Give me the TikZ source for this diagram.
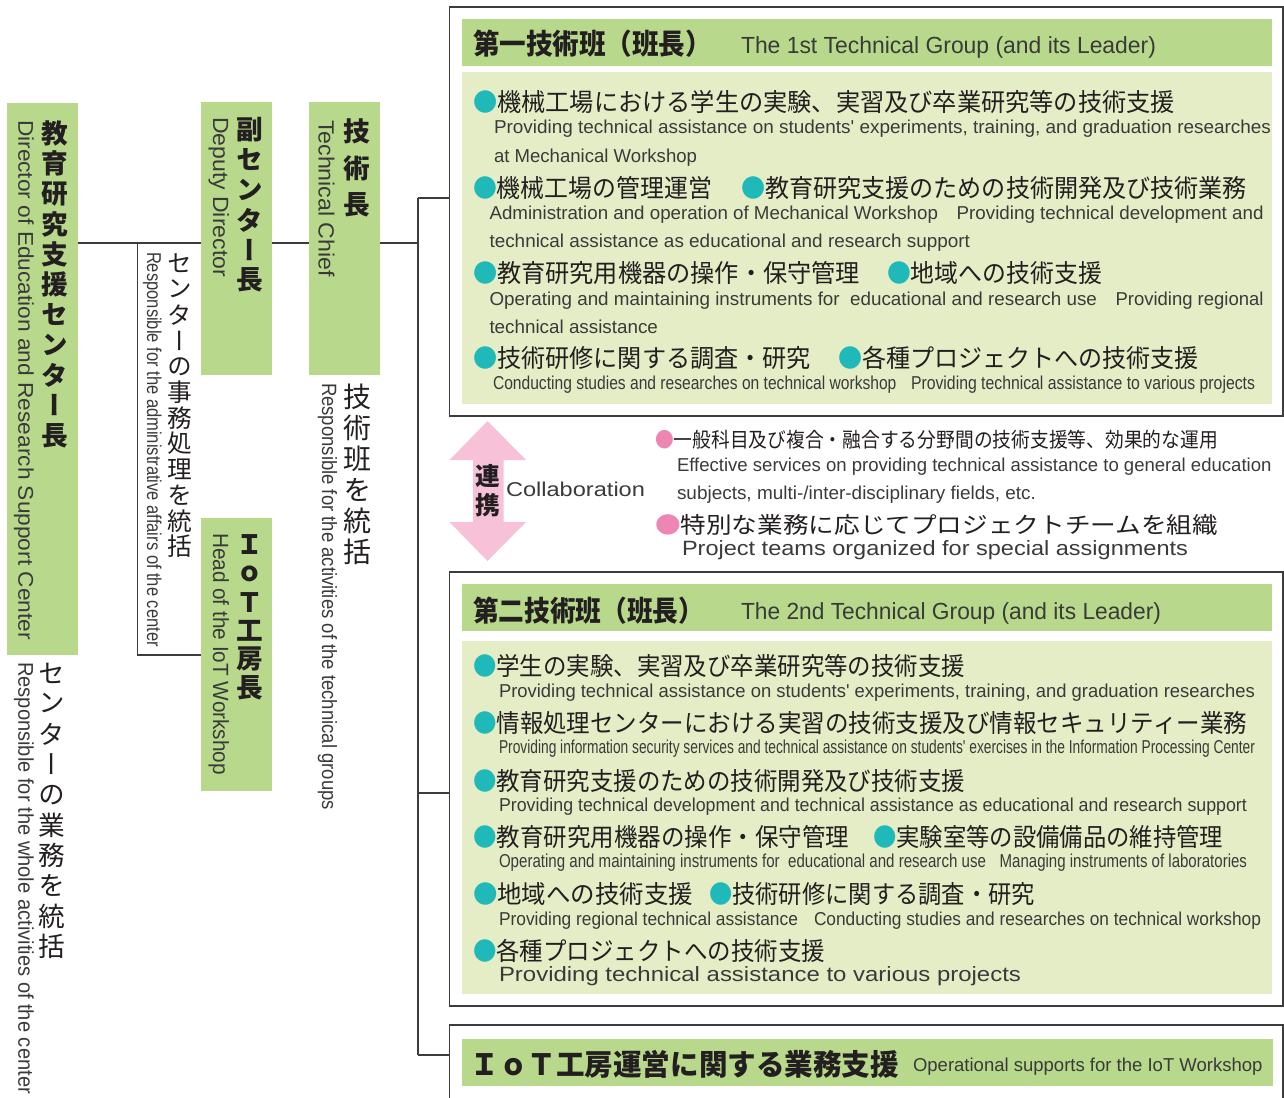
\documentclass[tikz,border=0pt]{standalone}
\usepackage{fontspec}
\usepackage{graphicx}
\setmainfont{Liberation Sans}
\newfontfamily\jpf{Noto Sans CJK JP}
\newfontfamily\jpvf[RawFeature=+vert]{Noto Sans CJK JP}
\newfontfamily\enf{Liberation Sans}
\usetikzlibrary{fit,shadows}
\definecolor{hdr}{HTML}{B8D98B}
\definecolor{bodyc}{HTML}{E4EDC5}
\definecolor{tealc}{HTML}{1FB9B9}
\definecolor{pinkc}{HTML}{EE86B4}
\definecolor{arrowc}{HTML}{F7C1D8}
\definecolor{jtx}{HTML}{231F20}
\definecolor{etx}{HTML}{3A3A3A}
\definecolor{bdr}{HTML}{3C3C3C}

\newlength\fitlen
\newcommand\fitw[2]{\settowidth\fitlen{#2}\pgfmathsetmacro\fitr{0.75*#1/\fitlen}\scalebox{\fitr}[1]{#2}}
\newcommand\tatecell{20pt}
\newcommand\tate[2]{\vbox{\offinterlineskip\def\tatecell{#1}\tateA#2\relax}}
\def\tateA#1{\ifx\relax#1\else\hbox to 1.2em{\hss\vbox to \tatecell{\vss\hbox{#1}\vss}\hss}\expandafter\tateA\fi}

\newcommand\jb{\jpf\fontsize{18.75}{20}\selectfont\color{jtx}}
\newcommand\eb{\enf\fontsize{14}{15}\selectfont\color{etx}}
\newcommand\tb{{\color{tealc}●}}
\newcommand\pb{{\color{pinkc}●}}
\newcommand\txtl[5]{\node[anchor=base west,inner sep=0,outer sep=0] (#1) at (#2,#3) {\fitw{#4}{#5}};}
\newcommand\rotl[6]{\node[anchor=base west,inner sep=0,outer sep=0,rotate=-90] (#1) at (#2,#3) {\fitw{#4}{\enf\fontsize{#5}{#5}\selectfont\color{etx}#6}};}

\begin{document}
\begin{tikzpicture}[x=0.75pt,y=-0.75pt,
  gfill/.style={fill=hdr,draw=none,inner sep=0,outer sep=0},
  bfill/.style={fill=bodyc,draw=none,inner sep=0,outer sep=0},
  outbox/.style={draw=bdr,line width=1.2pt,fill=white,inner sep=0,outer sep=0,
     drop shadow={shadow xshift=0.9pt,shadow yshift=-0.9pt,fill=black!40,opacity=0.8}},
  conn/.style={draw=bdr,line width=0.9pt},
  vt/.style={anchor=north,inner sep=0,outer sep=0,text=jtx}]
\useasboundingbox (0,0) rectangle (1284,1097);

% ---------- left column boxes ----------
\node[fit={(7.3,103)(77.7,655)},gfill] (dir) {};
\node[fit={(201,102.3)(271.7,375)},gfill] (dep) {};
\node[fit={(309,102.3)(380,375)},gfill] (chief) {};
\node[fit={(201,518)(272,790.7)},gfill] (iot) {};

% ---------- group boxes ----------
\node[fit={(449.5,7)(1283,416)},outbox] (g1) {};
\node[fit={(449.5,572)(1283,1006)},outbox] (g2) {};
\node[fit={(449.5,1025)(1283,1115)},outbox] (g3) {};
\node[fit={(461.5,19)(1272,66)},gfill] (h1) {};
\node[fit={(461.5,72)(1272,404)},bfill] (b1) {};
\node[fit={(461.5,584)(1272,631)},gfill] (h2) {};
\node[fit={(461.5,641)(1272,993.5)},bfill] (b2) {};
\node[fit={(462,1039)(1272.5,1086)},gfill] (h3) {};

% ---------- connectors ----------
\coordinate (yl) at (0,243);
\coordinate (jA) at (137.7,243);
\coordinate (jB) at (137.7,655);
\coordinate (tTop) at (418,198);
\coordinate (tMid) at (418,793);
\coordinate (tBot) at (418,1055);
\draw[conn] (dir.east |- yl) -- (dep.west |- yl);
\draw[conn] (jA) -- (jB) -- (iot.west |- jB);
\draw[conn] (dep.east |- yl) -- (chief.west |- yl);
\draw[conn] (chief.east |- yl) -- (tTop |- yl);
\draw[conn] (tTop) -- (tBot);
\draw[conn] (tTop) -- (g1.west |- tTop);
\draw[conn] (tMid) -- (g2.west |- tMid);
\draw[conn] (tBot) -- (g3.west |- tBot);

% ---------- vertical Japanese ----------
\node[vt] (v1) at (54.5,118.5) {\jpvf\bfseries\fontsize{20}{20}\selectfont\tate{22.65pt}{教育研究支援センター長}};
\node[vt] (v2) at (51.5,657.8) {\jpvf\fontsize{20}{20}\selectfont\tate{22.8pt}{センターの業務を統括}};
\node[vt] (v3) at (250,115) {\jpvf\bfseries\fontsize{20}{20}\selectfont\tate{22.5pt}{副センター長}};
\node[vt] (v4) at (356.5,112.5) {\jpvf\bfseries\fontsize{20}{20}\selectfont\tate{27.75pt}{技術長}};
\node[vt] (v5) at (180,250.6) {\jpvf\fontsize{18.5}{18.5}\selectfont\tate{19.3pt}{センターの事務処理を統括}};
\node[vt] (v6) at (357,381) {\jpvf\fontsize{21}{21}\selectfont\tate{23.25pt}{技術班を統括}};
\node[vt] (v7) at (250,530.7) {\jpvf\bfseries\fontsize{20}{20}\selectfont\tate{21.45pt}{ＩｏＴ工房長}};

% ---------- rotated English ----------
\rotl{r1}{18.3}{120}{520}{16}{Director of Education and Research Support Center}
\rotl{r2}{18.3}{662}{432}{16}{Responsible for the whole activities of the center}
\rotl{r3}{213}{117}{160}{16.5}{Deputy Director}
\rotl{r4}{318.5}{120}{157}{16.5}{Technical Chief}
\rotl{r5}{147}{252}{395}{15}{Responsible for the administrative affairs of the center}
\rotl{r6}{322}{383}{427}{15.5}{Responsible for the activities of the technical groups}
\rotl{r7}{213}{533}{242}{16.5}{Head of the IoT Workshop}

% ---------- collaboration arrow ----------
\path[fill=arrowc] (487.5,421) -- (526,460) -- (503.5,460) -- (503.5,522) -- (526,522)
  -- (487.5,561) -- (449.5,522) -- (473,522) -- (473,460) -- (449.5,460) -- cycle;
\node[vt] (v8) at (488,461) {\jpvf\bfseries\fontsize{18.5}{18.5}\selectfont\tate{22.1pt}{連携}};
\txtl{collab}{506}{496}{139}{\enf\fontsize{15}{16}\selectfont\color{etx}Collaboration}

% ---------- group 1 ----------
\txtl{h1j}{473}{54}{239}{\jpf\bfseries\fontsize{21.3}{22}\selectfont\color{jtx}第一技術班（班長）}
\txtl{h1e}{741}{53}{415}{\enf\fontsize{17.5}{18}\selectfont\color{etx}The 1st Technical Group (and its Leader)}
\txtl{a1}{473}{111}{702}{\jb\tb 機械工場における学生の実験、実習及び卒業研究等の技術支援}
\txtl{a1e}{494}{133}{777}{\eb Providing technical assistance on students' experiments, training, and graduation researches}
\txtl{a1f}{494}{162}{203}{\eb at Mechanical Workshop}
\txtl{a2}{473}{197}{239}{\jb\tb 機械工場の管理運営}
\txtl{a3}{741}{197}{506}{\jb\tb 教育研究支援のための技術開発及び技術業務}
\txtl{a2e}{489.5}{219}{448.5}{\eb Administration and operation of Mechanical Workshop}
\txtl{a3e}{956.7}{219}{306.8}{\eb Providing technical development and}
\txtl{a3f}{489.5}{247}{480.5}{\eb technical assistance as educational and research support}
\txtl{a4}{473}{282}{387}{\jb\tb 教育研究用機器の操作・保守管理}
\txtl{a5}{887}{282}{215}{\jb\tb 地域への技術支援}
\txtl{a4e}{489.5}{305}{607.5}{\eb Operating and maintaining instruments for\ \ educational and research use}
\txtl{a5e}{1115.5}{305}{148}{\eb Providing regional}
\txtl{a5f}{489.5}{333}{168.5}{\eb technical assistance}
\txtl{a6}{473}{367}{338}{\jb\tb 技術研修に関する調査・研究}
\txtl{a7}{838}{367}{361}{\jb\tb 各種プロジェクトへの技術支援}
\txtl{a6e}{493}{389}{403.5}{\eb Conducting studies and researches on technical workshop}
\txtl{a7e}{911}{389}{344}{\eb Providing technical assistance to various projects}

% ---------- cooperation items ----------
\txtl{p1}{655}{447}{563}{\jpf\fontsize{15.4}{16}\selectfont\color{jtx}\pb 一般科目及び複合・融合する分野間の技術支援等、効果的な運用}
\txtl{p1e}{677}{471}{594.5}{\eb Effective services on providing technical assistance to general education}
\txtl{p1f}{677}{499}{359}{\eb subjects, multi-/inter-disciplinary fields, etc.}
\txtl{p2}{655}{533}{563}{\jpf\fontsize{17}{18}\selectfont\color{jtx}\pb 特別な業務に応じてプロジェクトチームを組織}
\txtl{p2e}{682}{555}{506}{\enf\fontsize{15.5}{16}\selectfont\color{etx}Project teams organized for special assignments}

% ---------- group 2 ----------
\txtl{h2j}{473}{621}{231}{\jpf\bfseries\fontsize{21.3}{22}\selectfont\color{jtx}第二技術班（班長）}
\txtl{h2e}{741}{619}{420}{\enf\fontsize{17.5}{18}\selectfont\color{etx}The 2nd Technical Group (and its Leader)}
\txtl{c1}{473}{675}{492}{\jb\tb 学生の実験、実習及び卒業研究等の技術支援}
\txtl{c1e}{499}{697}{756}{\eb Providing technical assistance on students' experiments, training, and graduation researches}
\txtl{c2}{473}{732}{774}{\jb\tb 情報処理センターにおける実習の技術支援及び情報セキュリティー業務}
\txtl{c2e}{499}{753}{756}{\eb Providing information security services and technical assistance on students' exercises in the Information Processing Center}
\txtl{c3}{473}{790}{492}{\jb\tb 教育研究支援のための技術開発及び技術支援}
\txtl{c3e}{499}{811.5}{748}{\eb Providing technical development and technical assistance as educational and research support}
\txtl{c4}{473}{846}{376}{\jb\tb 教育研究用機器の操作・保守管理}
\txtl{c5}{873}{846}{350}{\jb\tb 実験室等の設備備品の維持管理}
\txtl{c4e}{499}{867}{487}{\eb Operating and maintaining instruments for\ \ educational and research use}
\txtl{c5e}{999.7}{867}{247.3}{\eb Managing instruments of laboratories}
\txtl{c6}{473}{903}{220}{\jb\tb 地域への技術支援}
\txtl{c7}{709}{903}{326}{\jb\tb 技術研修に関する調査・研究}
\txtl{c6e}{499}{925}{299}{\eb Providing regional technical assistance}
\txtl{c7e}{814}{925}{447}{\eb Conducting studies and researches on technical workshop}
\txtl{c8}{473}{960}{352}{\jb\tb 各種プロジェクトへの技術支援}
\txtl{c8e}{499}{981.5}{522}{\enf\fontsize{15.5}{16}\selectfont\color{etx}Providing technical assistance to various projects}

% ---------- group 3 ----------
\txtl{h3j}{470.5}{1075}{428.5}{\jpf\bfseries\fontsize{22}{23}\selectfont\color{jtx}ＩｏＴ工房運営に関する業務支援}
\txtl{h3e}{913}{1071}{349.5}{\enf\fontsize{14}{15}\selectfont\color{etx}Operational supports for the IoT Workshop}
\end{tikzpicture}
\end{document}
